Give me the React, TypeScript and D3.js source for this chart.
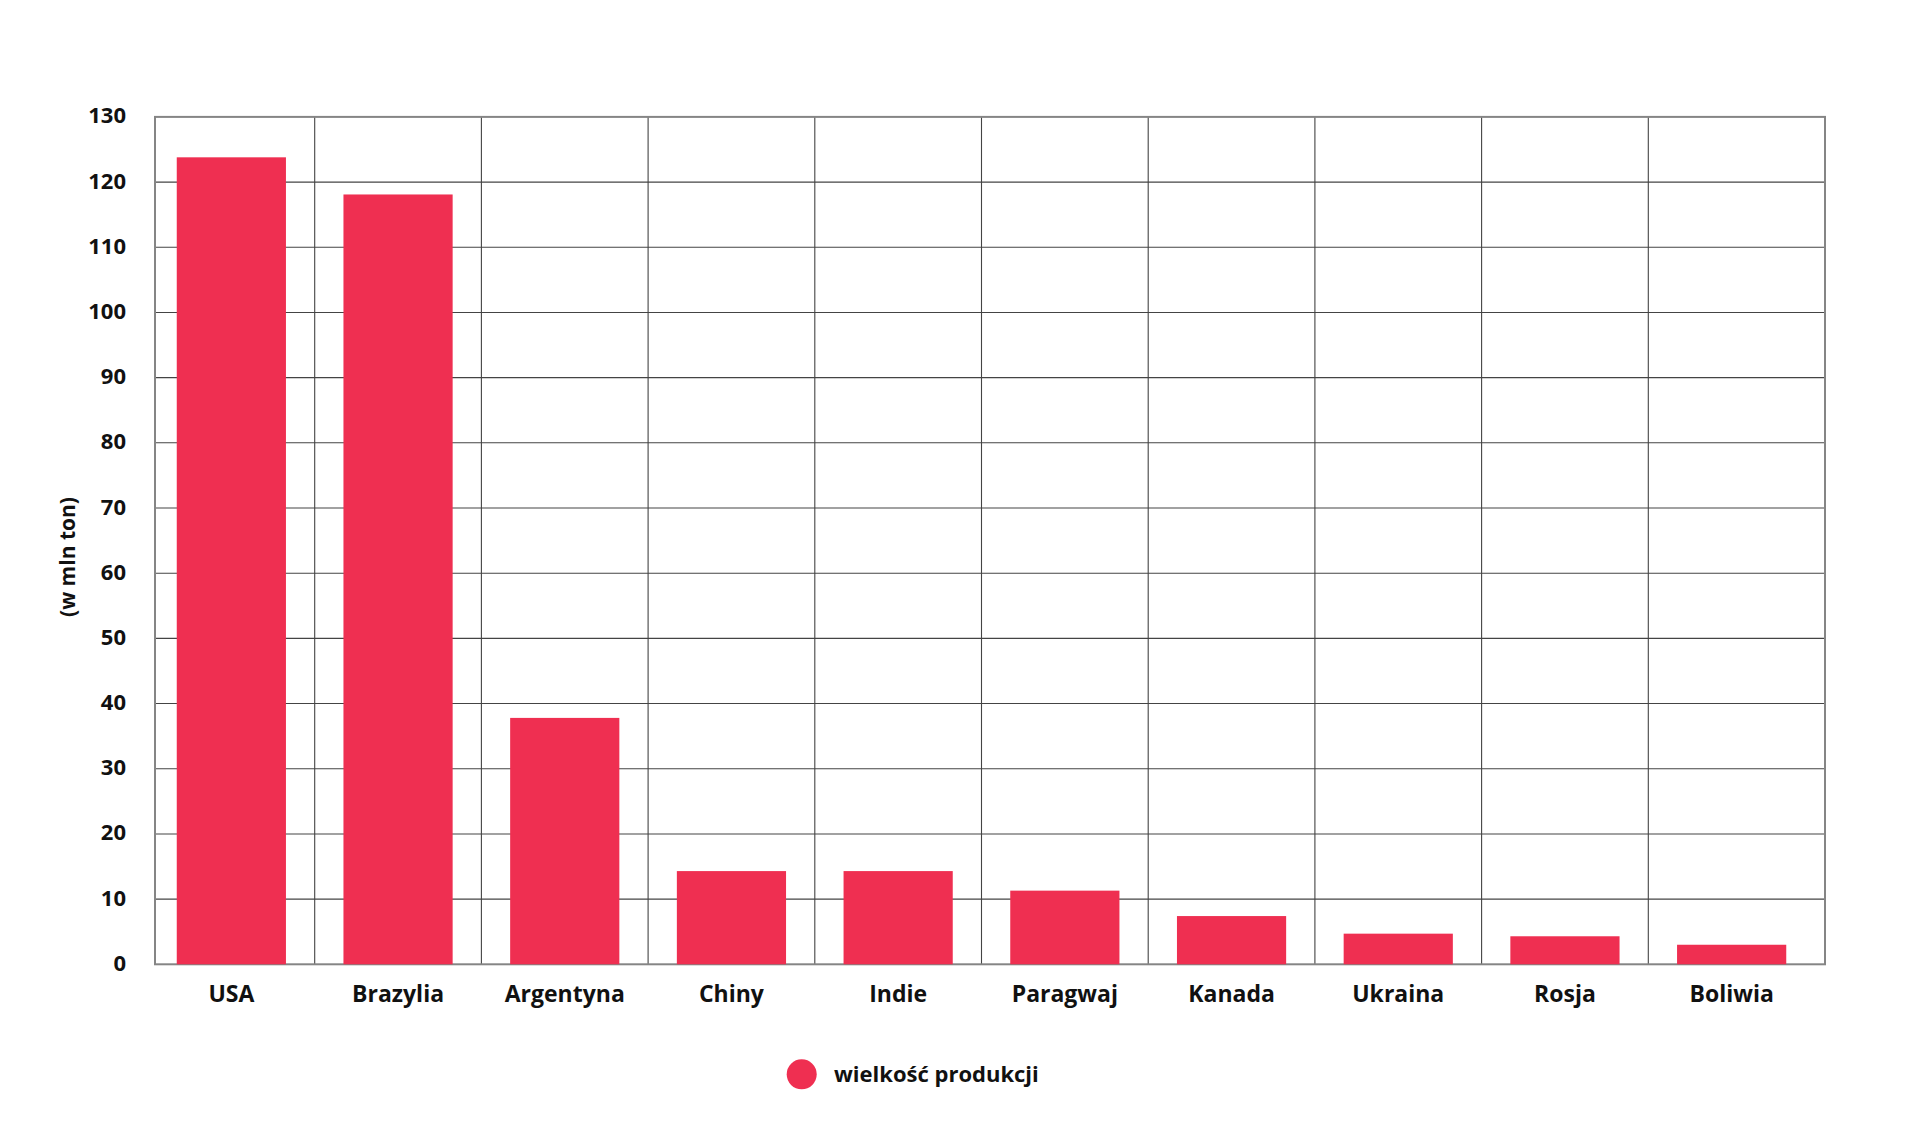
import React from "react";
import * as d3 from "d3";

const categories = ["USA", "Brazylia", "Argentyna", "Chiny", "Indie", "Paragwaj", "Kanada", "Ukraina", "Rosja", "Boliwia"];
const production = [123.8, 118.1, 37.8, 14.3, 14.3, 11.3, 7.4, 4.7, 4.3, 3.0];
const yTicks = [0, 10, 20, 30, 40, 50, 60, 70, 80, 90, 100, 110, 120, 130];
const seriesName = "wielkość produkcji";
const yAxisTitle = "(w mln ton)";

const W = 1920;
const H = 1131;
const frameLeft = 155;
const frameRight = 1825;
const bandLeft = 148;
const bandRight = 1815;
const top = 116.9;
const bottom = 964.3;
const BAR = "#ef2f51";
const FONT = "'Open Sans', 'Noto Sans', sans-serif";

export default function App() {
  const x = d3
    .scaleBand<string>()
    .domain(categories)
    .range([bandLeft, bandRight])
    .paddingInner(0.345)
    .paddingOuter(0.1725);
  const y = d3.scaleLinear().domain([0, 130]).range([bottom, top]);
  const step = x.step();
  const sepOffset = (step * x.paddingInner()) / 2;

  return (
    <div style={{ position: "absolute", left: 0, top: 0 }}>
      <svg width={W} height={H} style={{ display: "block", background: "#fff" }}>
        {/* horizontal grid */}
        {yTicks.slice(1, -1).map((t) => (
          <line key={"h" + t} x1={frameLeft} x2={frameRight} y1={y(t)} y2={y(t)} stroke="#444" strokeWidth={1.1} />
        ))}
        {/* vertical separators */}
        {categories.slice(1).map((c) => (
          <line
            key={"v" + c}
            x1={(x(c) as number) - sepOffset}
            x2={(x(c) as number) - sepOffset}
            y1={top}
            y2={bottom}
            stroke="#444"
            strokeWidth={1.1}
          />
        ))}
        {/* frame */}
        <rect
          x={frameLeft}
          y={top}
          width={frameRight - frameLeft}
          height={bottom - top}
          fill="none"
          stroke="#858585"
          strokeWidth={2}
        />
        {/* bars */}
        {categories.map((c, i) => (
          <rect
            key={"b" + c}
            x={x(c)}
            y={y(production[i])}
            width={x.bandwidth()}
            height={y(0) - y(production[i])}
            fill={BAR}
          />
        ))}
        {/* y tick labels */}
        {yTicks.map((t) => (
          <text
            key={"t" + t}
            x={126}
            y={y(t) + 6.5}
            textAnchor="end"
            fontFamily={FONT}
            fontWeight={700}
            fontSize={22}
            fill="#111"
          >
            {t}
          </text>
        ))}
        {/* x labels */}
        {categories.map((c) => (
          <text
            key={"l" + c}
            x={(x(c) as number) + x.bandwidth() / 2}
            y={1002}
            textAnchor="middle"
            fontFamily={FONT}
            fontWeight={700}
            fontSize={23}
            fill="#111"
          >
            {c}
          </text>
        ))}
        {/* y axis title */}
        <text
          transform="translate(75,557) rotate(-90)"
          textAnchor="middle"
          fontFamily={FONT}
          fontWeight={700}
          fontSize={21}
          fill="#111"
        >
          {yAxisTitle}
        </text>
        {/* legend */}
        <circle cx={801.7} cy={1074.3} r={15} fill={BAR} />
        <text x={834} y={1082} fontFamily={FONT} fontWeight={700} fontSize={22} fill="#111">
          {seriesName}
        </text>
      </svg>
    </div>
  );
}
